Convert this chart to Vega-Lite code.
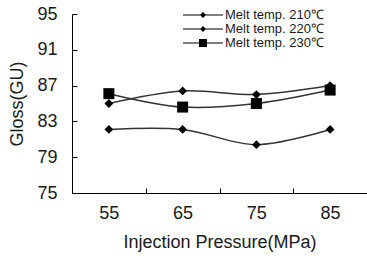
{
  "$schema": "https://vega.github.io/schema/vega-lite/v6.json",
  "width": 295,
  "height": 179,
  "autosize": "none",
  "padding": {"left": 72, "top": 14, "right": 0, "bottom": 66},
  "background": "white",
  "config": {
    "view": {"stroke": null},
    "font": "Liberation Sans",
    "axis": {
      "grid": false,
      "domainColor": "black",
      "domainWidth": 1,
      "tickColor": "black",
      "tickWidth": 1,
      "labelColor": "#1a1a1a",
      "titleColor": "#1a1a1a",
      "labelFontSize": 18,
      "titleFontSize": 18,
      "titleFontWeight": "normal",
      "labelFont": "Liberation Sans",
      "titleFont": "Liberation Sans"
    }
  },
  "data": {
    "values": [
      {"pressure": 55, "gloss": 82.1, "series": "Melt temp. 210℃"},
      {"pressure": 65, "gloss": 82.1, "series": "Melt temp. 210℃"},
      {"pressure": 75, "gloss": 80.4, "series": "Melt temp. 210℃"},
      {"pressure": 85, "gloss": 82.1, "series": "Melt temp. 210℃"},
      {"pressure": 55, "gloss": 85.0, "series": "Melt temp. 220℃"},
      {"pressure": 65, "gloss": 86.4, "series": "Melt temp. 220℃"},
      {"pressure": 75, "gloss": 86.0, "series": "Melt temp. 220℃"},
      {"pressure": 85, "gloss": 87.0, "series": "Melt temp. 220℃"},
      {"pressure": 55, "gloss": 86.1, "series": "Melt temp. 230℃"},
      {"pressure": 65, "gloss": 84.6, "series": "Melt temp. 230℃"},
      {"pressure": 75, "gloss": 85.0, "series": "Melt temp. 230℃"},
      {"pressure": 85, "gloss": 86.5, "series": "Melt temp. 230℃"}
    ]
  },
  "encoding": {
    "x": {
      "field": "pressure",
      "type": "quantitative",
      "scale": {"domain": [50, 90], "nice": false, "zero": false},
      "axis": {
        "title": "Injection Pressure(MPa)",
        "values": [55, 60, 65, 70, 75, 80, 85],
        "labelExpr": "datum.value % 10 === 5 ? datum.label : ''",
        "tickOpacity": {"condition": {"test": "datum.value % 10 === 5", "value": 0}, "value": 1},
        "tickSize": -5,
        "labelPadding": 16,
        "titlePadding": 11
      }
    },
    "y": {
      "field": "gloss",
      "type": "quantitative",
      "scale": {"domain": [75, 95], "nice": false, "zero": false},
      "axis": {
        "title": "Gloss(GU)",
        "values": [75, 79, 83, 87, 91, 95],
        "tickSize": -5,
        "labelPadding": 20,
        "titlePadding": 10
      }
    }
  },
  "layer": [
    {
      "mark": {"type": "line", "interpolate": "catmull-rom", "color": "#333333", "strokeWidth": 1.5},
      "encoding": {"detail": {"field": "series"}}
    },
    {
      "mark": {"type": "point", "filled": true, "color": "black", "opacity": 1, "size": 121},
      "encoding": {
        "shape": {
          "field": "series",
          "type": "nominal",
          "scale": {"domain": ["Melt temp. 210℃", "Melt temp. 220℃", "Melt temp. 230℃"], "range": ["M0,-0.8L0.8,0L0,0.8L-0.8,0Z", "M0,-0.8L0.8,0L0,0.8L-0.8,0Z", "M-1,-1H1V1H-1Z"]},
          "legend": null
        }
      }
    },
    {
      "transform": [{"filter": "datum.pressure < 0"}],
      "mark": {"type": "point", "filled": true, "color": "black", "opacity": 1},
      "encoding": {
        "shape": {
          "field": "series",
          "type": "nominal",
          "scale": {"domain": ["Melt temp. 210℃", "Melt temp. 220℃", "Melt temp. 230℃"], "range": ["M-2.857,-0.086H2.857V0.086H-2.857ZM0,-0.43L0.43,0L0,0.43L-0.43,0Z", "M-2.857,-0.086H2.857V0.086H-2.857ZM0,-0.43L0.43,0L0,0.43L-0.43,0Z", "M-2.857,-0.086H2.857V0.086H-2.857ZM-0.57,-0.57H0.57V0.57H-0.57Z"]},
          "legend": {
            "title": null,
            "orient": "none",
            "legendX": 124,
            "legendY": -6,
            "padding": 0,
            "symbolSize": 196,
            "rowPadding": 0,
            "labelFontSize": 13,
            "labelFont": "Liberation Sans",
            "labelColor": "#1a1a1a",
            "labelOffset": 15,
            "symbolFillColor": "black",
            "symbolStrokeColor": "black",
            "symbolStrokeWidth": 0,
            "symbolOpacity": 1
          }
        }
      }
    }
  ],
  "resolve": {"scale": {"shape": "independent"}}
}
